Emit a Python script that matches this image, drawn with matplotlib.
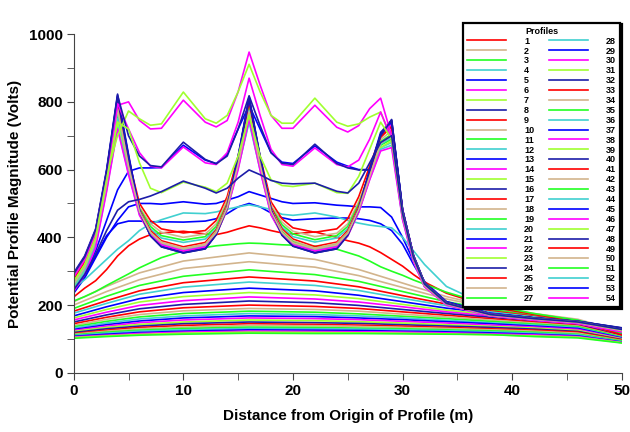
'''
  Potential profile magnitude along the profile line, 54 profiles.
'''

import matplotlib
matplotlib.use("Agg")
import matplotlib.pyplot as plt
from matplotlib.ticker import MultipleLocator

plt.rcParams['font.family'] = ['Liberation Sans', 'DejaVu Sans']

###########################################################################

# sampling positions (m)
x_fine = [0, 1, 2, 3, 4, 5, 6, 7, 8, 10, 12, 13, 14, 15, 16, 17, 18, 19, 20,
          22, 24, 25, 26, 27, 28, 29, 30, 31, 32, 34, 38, 42, 46, 50]
x_coarse = [0, 3, 6, 10, 16, 22, 26, 30, 34, 38, 42, 46, 50]

# profiles with sharp peaks over the electrodes (on x_fine)
peak_ids = [1, 2, 3, 4, 9, 10, 11, 12, 22, 23, 24, 25, 28, 29, 30, 32, 34]
peak_vals = [
    [275, 325, 405, 575, 790, 630, 500, 450, 425, 413, 420, 450, 520, 640, 780, 640, 505, 455, 428, 415, 425, 455, 520, 610, 700, 735, 480, 345, 265, 207, 173, 160, 150, 128],
    [265, 315, 395, 560, 770, 610, 490, 440, 415, 400, 410, 440, 510, 625, 760, 625, 495, 445, 418, 402, 412, 440, 505, 595, 680, 700, 465, 335, 258, 203, 171, 158, 148, 125],
    [260, 310, 390, 555, 760, 605, 485, 432, 405, 392, 402, 432, 500, 615, 765, 615, 488, 437, 410, 393, 405, 432, 498, 588, 672, 690, 460, 332, 256, 202, 170, 157, 147, 124],
    [255, 305, 385, 548, 750, 600, 478, 425, 398, 385, 395, 425, 495, 610, 755, 610, 482, 430, 402, 386, 398, 425, 490, 580, 665, 680, 455, 330, 255, 201, 169, 156, 146, 123],
    [272, 322, 402, 572, 805, 625, 482, 420, 390, 372, 385, 422, 498, 630, 795, 628, 488, 425, 395, 373, 386, 420, 492, 595, 695, 728, 475, 342, 263, 206, 172, 160, 150, 127],
    [268, 318, 398, 566, 795, 618, 478, 415, 386, 368, 380, 418, 492, 622, 790, 622, 482, 420, 390, 368, 382, 415, 486, 588, 688, 715, 470, 340, 262, 205, 171, 159, 149, 126],
    [262, 312, 392, 560, 785, 612, 474, 412, 382, 364, 376, 414, 488, 618, 785, 618, 478, 416, 386, 364, 378, 412, 482, 582, 682, 705, 466, 338, 260, 204, 170, 158, 148, 125],
    [258, 308, 388, 555, 775, 606, 470, 408, 378, 362, 374, 410, 484, 612, 775, 612, 472, 412, 382, 362, 375, 408, 478, 576, 675, 695, 462, 336, 259, 203, 169, 157, 147, 124],
    [285, 335, 415, 590, 815, 640, 480, 410, 378, 356, 368, 410, 486, 635, 810, 635, 482, 412, 380, 356, 370, 408, 480, 590, 700, 735, 478, 344, 264, 207, 173, 161, 151, 130],
    [250, 300, 380, 545, 740, 595, 472, 412, 382, 360, 372, 408, 482, 608, 745, 605, 470, 410, 380, 359, 371, 405, 475, 575, 665, 685, 458, 333, 257, 202, 169, 157, 147, 123],
    [295, 345, 425, 600, 823, 645, 478, 405, 372, 354, 366, 408, 488, 640, 815, 640, 480, 408, 374, 354, 366, 406, 482, 600, 710, 745, 482, 346, 266, 208, 174, 162, 152, 132],
    [280, 330, 410, 580, 800, 628, 476, 410, 380, 360, 372, 412, 488, 628, 800, 628, 478, 410, 380, 360, 372, 410, 484, 592, 698, 725, 472, 340, 262, 205, 171, 160, 150, 128],
    [248, 298, 375, 540, 725, 590, 468, 410, 380, 362, 374, 410, 484, 605, 740, 600, 468, 410, 380, 361, 373, 406, 476, 572, 660, 672, 455, 330, 255, 200, 168, 156, 146, 122],
    [290, 340, 420, 595, 815, 640, 478, 406, 374, 355, 368, 410, 488, 638, 808, 638, 480, 408, 376, 355, 368, 408, 484, 598, 705, 740, 480, 345, 265, 207, 173, 161, 151, 131],
    [240, 290, 370, 535, 720, 585, 465, 408, 378, 360, 372, 408, 482, 600, 750, 598, 466, 408, 378, 360, 372, 404, 474, 570, 655, 665, 452, 328, 254, 200, 168, 155, 145, 121],
    [288, 338, 418, 590, 810, 635, 476, 404, 372, 354, 366, 408, 486, 634, 812, 636, 478, 406, 374, 354, 366, 406, 482, 596, 702, 748, 482, 346, 266, 208, 174, 162, 152, 133],
    [262, 312, 392, 558, 780, 610, 476, 414, 384, 366, 378, 414, 488, 616, 770, 615, 476, 414, 384, 366, 378, 412, 482, 580, 678, 700, 464, 336, 258, 203, 170, 158, 148, 125],
]

# upper humped profiles (on x_fine)
top_ids = [6, 7, 14, 8, 15, 16]
top_vals = [
    [290, 340, 420, 590, 790, 800, 745, 720, 722, 805, 740, 726, 745, 830, 947, 850, 760, 722, 722, 790, 725, 711, 730, 780, 811, 700, 480, 345, 265, 207, 174, 161, 151, 129],
    [285, 335, 415, 585, 700, 773, 750, 731, 735, 829, 750, 737, 760, 830, 911, 830, 760, 737, 737, 811, 740, 728, 735, 755, 770, 690, 475, 343, 264, 206, 173, 161, 151, 128],
    [283, 333, 413, 583, 795, 720, 650, 610, 605, 667, 620, 615, 650, 740, 870, 760, 660, 615, 610, 664, 615, 608, 628, 690, 770, 690, 472, 342, 263, 206, 173, 160, 150, 128],
    [292, 342, 422, 595, 820, 700, 640, 612, 608, 681, 630, 617, 640, 720, 818, 730, 650, 619, 615, 675, 618, 605, 599, 599, 700, 746, 482, 346, 266, 208, 174, 162, 152, 132],
    [270, 320, 400, 570, 740, 720, 620, 545, 532, 563, 548, 535, 560, 640, 760, 640, 570, 553, 550, 560, 532, 530, 580, 660, 740, 690, 470, 340, 262, 205, 172, 160, 150, 127],
    [245, 290, 350, 420, 480, 505, 512, 522, 535, 566, 545, 531, 545, 575, 599, 585, 568, 560, 558, 560, 536, 531, 560, 620, 680, 700, 470, 340, 262, 205, 172, 160, 150, 128],
]

# broad profiles without sharp peaks (on x_fine)
wide_ids = [5, 13, 21, 20, 17, 19]
wide_vals = [
    [240, 290, 360, 450, 540, 595, 605, 605, 606, 672, 628, 618, 645, 720, 790, 720, 650, 622, 618, 670, 622, 610, 600, 600, 700, 740, 480, 344, 265, 207, 173, 161, 151, 130],
    [235, 280, 340, 400, 450, 490, 500, 500, 498, 505, 498, 500, 510, 520, 535, 525, 515, 505, 500, 502, 495, 493, 490, 490, 488, 460, 400, 330, 270, 210, 175, 162, 152, 130],
    [245, 285, 345, 405, 440, 448, 448, 446, 446, 445, 448, 455, 470, 490, 500, 490, 472, 458, 451, 455, 457, 457, 455, 450, 440, 420, 380, 320, 265, 210, 175, 162, 152, 130],
    [250, 275, 305, 335, 365, 390, 420, 440, 452, 472, 470, 475, 483, 490, 496, 490, 482, 468, 465, 472, 460, 450, 442, 436, 432, 428, 400, 360, 320, 255, 195, 172, 155, 120],
    [224, 250, 272, 305, 345, 375, 395, 408, 413, 418, 410, 408, 415, 425, 434, 428, 420, 413, 410, 416, 400, 390, 383, 372, 355, 335, 315, 290, 268, 235, 195, 172, 152, 112],
    [212, 225, 240, 258, 275, 292, 310, 325, 340, 360, 370, 375, 378, 381, 383, 382, 380, 378, 377, 374, 365, 355, 345, 330, 313, 300, 288, 274, 262, 238, 200, 175, 155, 118],
]

# smooth low profiles (on x_coarse)
smooth_ids = [18, 26, 27, 33, 36, 37, 39, 38, 40, 41, 42, 43, 44, 45, 46, 47,
              48, 49, 50, 51, 52, 53, 54, 31, 35]
smooth_vals = [
    [210, 255, 295, 330, 354, 335, 305, 265, 225, 195, 175, 158, 122],
    [200, 240, 275, 308, 328, 312, 287, 252, 218, 192, 173, 156, 120],
    [190, 226, 258, 285, 304, 290, 270, 240, 210, 187, 170, 154, 118],
    [182, 213, 242, 266, 283, 271, 254, 228, 203, 183, 167, 152, 116],
    [176, 205, 232, 253, 268, 258, 243, 220, 198, 180, 165, 150, 115],
    [168, 195, 219, 237, 250, 242, 229, 210, 191, 176, 162, 148, 114],
    [162, 187, 209, 225, 237, 230, 219, 202, 185, 172, 159, 146, 112],
    [156, 179, 199, 213, 224, 218, 209, 195, 180, 168, 156, 144, 111],
    [150, 171, 189, 202, 212, 207, 199, 187, 175, 164, 153, 142, 110],
    [145, 164, 180, 192, 200, 196, 190, 180, 170, 160, 150, 140, 108],
    [140, 158, 172, 183, 190, 187, 182, 173, 165, 156, 147, 138, 107],
    [136, 152, 165, 175, 182, 179, 174, 167, 160, 152, 144, 136, 106],
    [132, 147, 159, 168, 175, 172, 168, 162, 155, 148, 141, 133, 104],
    [128, 142, 153, 162, 168, 166, 162, 157, 151, 145, 138, 131, 103],
    [125, 138, 148, 156, 162, 160, 157, 152, 147, 141, 135, 128, 101],
    [122, 134, 143, 150, 156, 154, 151, 147, 142, 137, 132, 125, 100],
    [119, 130, 138, 145, 150, 148, 146, 142, 138, 134, 129, 122, 98],
    [116, 126, 134, 140, 145, 143, 141, 138, 134, 130, 126, 120, 97],
    [114, 123, 130, 135, 140, 139, 137, 134, 131, 127, 123, 117, 95],
    [112, 120, 126, 131, 135, 134, 132, 130, 127, 124, 120, 114, 94],
    [110, 117, 123, 127, 131, 130, 129, 127, 124, 121, 117, 112, 92],
    [108, 114, 119, 123, 127, 126, 125, 123, 121, 118, 114, 109, 91],
    [106, 111, 116, 120, 123, 122, 121, 120, 118, 115, 112, 107, 90],
    [104, 109, 113, 117, 120, 119, 118, 117, 115, 112, 109, 105, 89],
    [102, 107, 111, 114, 117, 116, 116, 115, 114, 113, 107, 103, 88],
]

# colour cycle of the profiles: 1 red, 2 tan, 3 green, ... 8 dark blue
palette = ['#ff0000', '#d2b48c', '#22ff22', '#40d0d0',
           '#0000ff', '#ff00ff', '#a0ff30', '#1c1ca8']

###########################################################################

fig = plt.figure(figsize=(6.3, 4.32), dpi=100)
ax = fig.add_axes([0.117, 0.137, 0.870, 0.784])

handles = {}
for ids, vals, xs in [(smooth_ids, smooth_vals, x_coarse),
                      (wide_ids, wide_vals, x_fine),
                      (peak_ids, peak_vals, x_fine),
                      (top_ids, top_vals, x_fine)]:
    for pid, v in zip(ids, vals):
        ln, = ax.plot(xs, v, color=palette[(pid - 1) % 8], lw=1.2,
                      label=str(pid))
        handles[pid] = ln

ax.set_xlim(0, 50)
ax.set_ylim(0, 1000)
ax.xaxis.set_major_locator(MultipleLocator(10))
ax.xaxis.set_minor_locator(MultipleLocator(5))
ax.yaxis.set_major_locator(MultipleLocator(200))
ax.yaxis.set_minor_locator(MultipleLocator(100))
ax.tick_params(which='both', direction='out', color='#444444')
ax.tick_params(which='major', length=5, labelsize=11, pad=3)
ax.tick_params(which='minor', length=5)
for lab in ax.get_xticklabels() + ax.get_yticklabels():
    lab.set_fontweight('bold')
ax.spines['top'].set_visible(False)
ax.spines['right'].set_visible(False)
ax.spines['left'].set_color('#444444')
ax.spines['bottom'].set_color('#444444')

ax.set_xlabel("Distance from Origin of Profile (m)", fontsize=11,
              fontweight='bold', labelpad=8)
ax.set_ylabel("Potential Profile Magnitude (Volts)", fontsize=11,
              fontweight='bold', labelpad=5)

order = sorted(handles)
leg = fig.legend([handles[k] for k in order], [str(k) for k in order],
                 loc='upper left', bbox_to_anchor=(0.728, 0.958), ncol=2,
                 title="Profiles", fontsize=6.5, title_fontsize=6.5,
                 labelspacing=0.1, handlelength=4.3, handletextpad=2.0,
                 columnspacing=1.6, borderpad=0.45, fancybox=False,
                 framealpha=1, edgecolor='black',
                 shadow={'ox': 1.2, 'oy': -1.2, 'color': 'black', 'alpha': 1})
leg.get_frame().set_linewidth(1.6)
leg.get_title().set_fontweight('bold')
for t in leg.get_texts():
    t.set_fontweight('bold')

fig.savefig("out.png", dpi=100, facecolor='w')
